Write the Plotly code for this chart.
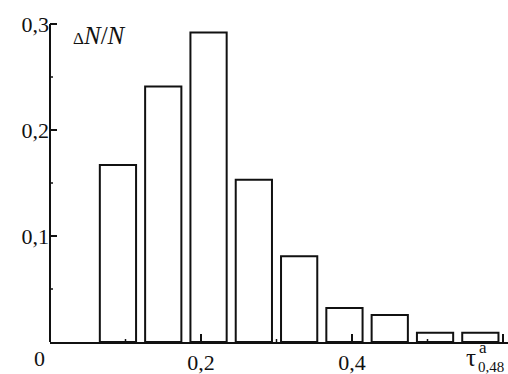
import plotly.graph_objects as go

# data
bin_centers = [0.09, 0.15, 0.21, 0.27, 0.33, 0.39, 0.45, 0.51, 0.57]
fractions = [0.167, 0.241, 0.292, 0.153, 0.081, 0.032, 0.0255, 0.0088, 0.0088]
bar_width = 0.048

y_tickvals = [0.1, 0.2, 0.3]
y_ticktext = ["0,1", "0,2", "0,3"]
y_minor = [0.05, 0.15, 0.25]
x_tickvals = [0.2, 0.4, 0.6]
x_ticktext = ["0,2", "0,4", ""]
x_minor = [0.1, 0.3, 0.5]

XMAX = 458 / 755
YMAX = 0.3
PLOT_W, PLOT_H = 458, 318

FONT = "Liberation Serif, Times New Roman, serif"
INK = "#111111"

fig = go.Figure()
fig.add_trace(go.Bar(
    x=bin_centers, y=fractions, width=bar_width,
    marker=dict(color="white", line=dict(color=INK, width=2)),
    showlegend=False, hoverinfo="skip",
))

fig.update_layout(
    template="none",
    width=508, height=374,
    margin=dict(l=50, r=0, t=24, b=32),
    paper_bgcolor="white", plot_bgcolor="white",
    font=dict(family=FONT, size=22, color=INK),
    xaxis=dict(
        range=[0, XMAX], showgrid=False, zeroline=False,
        showline=True, linecolor=INK, linewidth=2,
        tickmode="array", tickvals=x_tickvals, ticktext=x_ticktext,
        ticks="",
        tickfont=dict(family=FONT, size=22, color=INK),
    ),
    yaxis=dict(
        range=[0, YMAX], showgrid=False, zeroline=False,
        showline=False,
        tickmode="array", tickvals=y_tickvals, ticktext=y_ticktext,
        ticks="",
        tickfont=dict(family=FONT, size=22, color=INK),
    ),
)

shapes = []
# y axis line
shapes.append(dict(type="line", xref="paper", yref="paper", x0=0, x1=0, y0=0, y1=1,
                   line=dict(color=INK, width=2), layer="above"))
# y ticks (pointing right, into the plot)
for v in y_tickvals:
    shapes.append(dict(type="line", xref="paper", yref="paper", x0=0, x1=7 / PLOT_W,
                       y0=v / YMAX, y1=v / YMAX, line=dict(color=INK, width=2), layer="above"))
for v in y_minor:
    shapes.append(dict(type="line", xref="paper", yref="paper", x0=0, x1=3 / PLOT_W,
                       y0=v / YMAX, y1=v / YMAX, line=dict(color=INK, width=1.5), layer="above"))
# x ticks (pointing up, into the plot)
for v in x_tickvals:
    shapes.append(dict(type="line", xref="paper", yref="paper", x0=v / XMAX, x1=v / XMAX,
                       y0=0, y1=8 / PLOT_H, line=dict(color=INK, width=2), layer="above"))
for v in x_minor:
    shapes.append(dict(type="line", xref="paper", yref="paper", x0=v / XMAX, x1=v / XMAX,
                       y0=0, y1=3 / PLOT_H, line=dict(color=INK, width=1.5), layer="above"))
fig.update_layout(shapes=shapes)

annotations = [
    dict(x=0, y=0, xref="x", yref="y", text="0", showarrow=False,
         xanchor="center", yanchor="middle", xshift=-11, yshift=-16,
         font=dict(family=FONT, size=22, color=INK)),
    dict(x=(71 - 50) / 755, y=(342 - 35) / 1060, xref="x", yref="y",
         text="<span style='font-size:17px'>Δ</span><i>N</i>/<i>N</i>",
         showarrow=False, xanchor="left", yanchor="middle",
         font=dict(family=FONT, size=25, color=INK)),
    dict(x=(471 - 50) / 755, y=0, xref="x", yref="y", yshift=-15,
         text="τ", showarrow=False, xanchor="center", yanchor="middle",
         font=dict(family=FONT, size=25, color=INK)),
    dict(x=(477 - 50) / 755, y=0, xref="x", yref="y", yshift=-5,
         text="a", showarrow=False, xanchor="left", yanchor="middle",
         font=dict(family=FONT, size=17, color=INK)),
    dict(x=(476 - 50) / 755, y=0, xref="x", yref="y", yshift=-25,
         text="0,48", showarrow=False, xanchor="left", yanchor="middle",
         font=dict(family=FONT, size=15, color=INK)),
]
fig.update_layout(annotations=annotations)

fig.write_html("out.html")
